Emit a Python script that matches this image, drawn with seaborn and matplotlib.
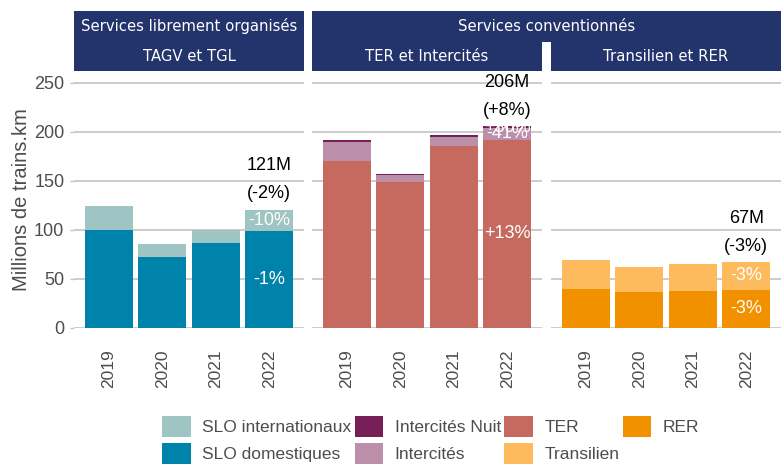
import numpy as np
import pandas as pd
import matplotlib
matplotlib.use("Agg")
import matplotlib.pyplot as plt
from matplotlib.patches import Rectangle, Patch
import seaborn as sns

# Data (millions of train.km)
years = ["2019", "2020", "2021", "2022"]
slo_domestiques = [100.5, 72.8, 86.4, 99.3]
slo_internationaux = [24.0, 13.0, 13.6, 21.4]
ter = [170.7, 149.3, 186.0, 192.0]
intercites = [19.3, 7.1, 9.2, 12.0]
intercites_nuit = [1.8, 1.0, 1.8, 2.0]
rer = [40.3, 36.4, 37.8, 39.1]
transilien = [29.1, 26.2, 27.8, 28.2]

total_labels = ["121M", "206M", "67M"]
total_var = ["(-2%)", "(+8%)", "(-3%)"]
# 2022 change per layer, bottom to top
seg_var = [["-1%", "-10%"], ["+13%", "-41%", "+30%"], ["-3%", "-3%"]]

strip_top = ["Services librement organisés", "Services conventionnés"]
strip_sub = ["TAGV et TGL", "TER et Intercités", "Transilien et RER"]

colors = {
    "SLO internationaux": "#9ec4c3",
    "SLO domestiques": "#0083ab",
    "Intercités Nuit": "#761f57",
    "Intercités": "#bb8faa",
    "TER": "#c66a5f",
    "RER": "#f29100",
    "Transilien": "#fdbb5d",
}

# layers bottom -> top for each panel
panels = [
    [("SLO domestiques", slo_domestiques), ("SLO internationaux", slo_internationaux)],
    [("TER", ter), ("Intercités", intercites), ("Intercités Nuit", intercites_nuit)],
    [("RER", rer), ("Transilien", transilien)],
]

sns.set_theme(style="white")
plt.rcParams["font.family"] = ["Liberation Sans", "DejaVu Sans"]

W, H = 783, 468
fig = plt.figure(figsize=(W / 100, H / 100), dpi=100)

def fx(px):
    return px / W

def fy(py):
    return 1 - py / H

panel_left = [74, 312, 551]
panel_w = 230
panel_top, panel_bot = 72, 328
grey_txt = "#4d4d4d"

axes = []
for i, layers in enumerate(panels):
    ax = fig.add_axes([fx(panel_left[i]), fy(panel_bot), panel_w / W, (panel_bot - panel_top) / H])
    axes.append(ax)
    df = pd.DataFrame({"year": years})
    cum = np.zeros(len(years))
    cums = []
    for name, vals in layers:
        cum = cum + np.array(vals)
        cums.append((name, cum.copy()))
    # draw tallest (cumulative) first so lower layers sit on top
    for name, c in reversed(cums):
        df["v"] = c
        sns.barplot(data=df, x="year", y="v", color=colors[name], saturation=1,
                    width=0.9, linewidth=0, ax=ax, zorder=2)
    ax.set_xlim(-0.65, 3.65)
    ax.set_ylim(0, 261.2)
    ax.set_yticks([0, 50, 100, 150, 200, 250])
    ax.yaxis.grid(True, color="#c4c4c4", linewidth=1.2, zorder=0)
    ax.set_axisbelow(True)
    for s in ax.spines.values():
        s.set_visible(False)
    ax.set_xlabel("")
    ax.tick_params(axis="x", length=0, pad=15.5, labelsize=12.5, labelcolor=grey_txt, labelrotation=90)
    if i == 0:
        ax.set_ylabel("Millions de trains.km", fontsize=14.5, color=grey_txt, labelpad=2)
        ax.tick_params(axis="y", length=3, width=1, color="#c4c4c4", pad=4,
                       labelsize=13, labelcolor=grey_txt, left=True)
    else:
        ax.set_ylabel("")
        ax.tick_params(axis="y", left=False, labelleft=False)

    # segment labels for 2022
    prev = 0
    for (name, c), lab in zip(cums, seg_var[i]):
        mid = (prev + c[3]) / 2
        ax.text(3, mid, lab, ha="center", va="center", color="white", fontsize=13, zorder=3)
        prev = c[3]
    top = cums[-1][1][3]
    ax.annotate(total_labels[i], (3, top), xytext=(0, 44), textcoords="offset pixels",
                ha="center", va="center", fontsize=13, color="black", annotation_clip=False)
    ax.annotate(total_var[i], (3, top), xytext=(0, 16), textcoords="offset pixels",
                ha="center", va="center", fontsize=13, color="black", annotation_clip=False)

# facet strips
navy = "#23346c"
strip_font = ["DejaVu Sans"]
def strip(x0, x1, y0, y1, label):
    fig.add_artist(Rectangle((fx(x0), fy(y1)), (x1 - x0) / W, (y1 - y0) / H,
                             transform=fig.transFigure, facecolor=navy, edgecolor="none"))
    fig.text(fx((x0 + x1) / 2), fy((y0 + y1) / 2), label, ha="center", va="center",
             color="white", fontsize=10.7, family=strip_font)

strip(panel_left[0], panel_left[0] + panel_w, 11, 41.5, strip_top[0])
strip(panel_left[1], panel_left[2] + panel_w, 11, 41.5, strip_top[1])
for i in range(3):
    strip(panel_left[i], panel_left[i] + panel_w, 41.5, 71, strip_sub[i])

# legend
order = ["SLO internationaux", "SLO domestiques", "Intercités Nuit", "Intercités",
         "TER", "Transilien", "RER"]
handles = [Patch(facecolor=colors[k], edgecolor="none", label=k) for k in order]
leg = fig.legend(handles=handles, ncol=4, loc="upper left",
                 bbox_to_anchor=(fx(162), fy(416)), frameon=False, fontsize=12.5,
                 handlelength=1.65, handleheight=1.5, handletextpad=0.65,
                 columnspacing=0.2, labelspacing=0.32, borderpad=0, borderaxespad=0)
for t in leg.get_texts():
    t.set_color(grey_txt)

fig.savefig("out.png", dpi=100)
